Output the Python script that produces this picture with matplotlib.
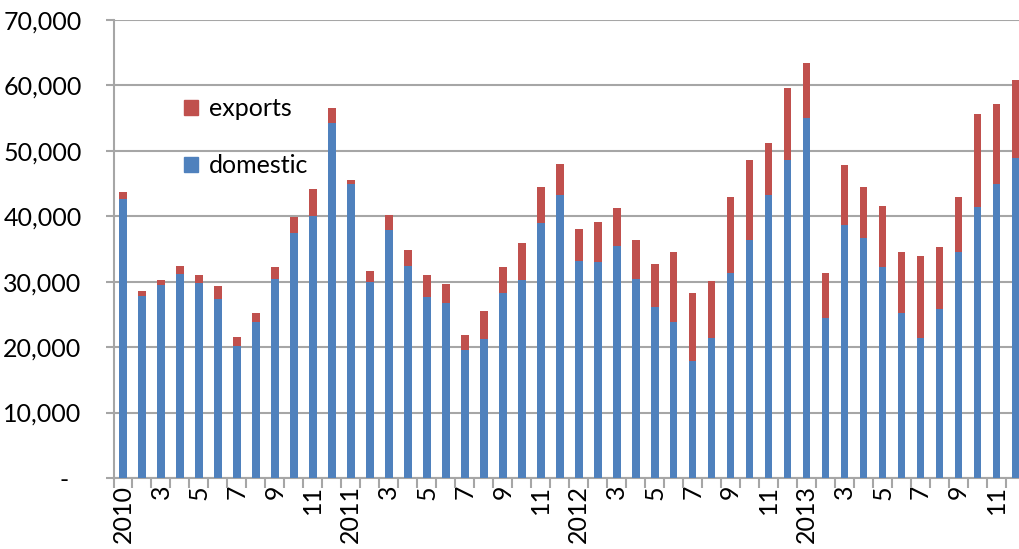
import matplotlib
matplotlib.use("Agg")
import matplotlib.pyplot as plt
from matplotlib.patches import Patch
import numpy as np

months = [f"{y}-{m:02d}" for y in (2010, 2011, 2012, 2013) for m in range(1, 13)]

domestic = [
    42700, 27800, 29500, 31200, 29800, 27400, 20100, 23800, 30400, 37400, 40100, 54200,
    44900, 30000, 37900, 32400, 27700, 26700, 19500, 21300, 28200, 30300, 39000, 43300,
    33100, 33000, 35400, 30400, 26200, 23900, 17900, 21400, 31400, 36400, 43200, 48600,
    55000, 24500, 38700, 36700, 32300, 25200, 21400, 25900, 34500, 41400, 45000, 48900,
]
totals = [
    43700, 28600, 30200, 32400, 31000, 29400, 21600, 25200, 32200, 39900, 44100, 56600,
    45600, 31700, 40200, 34800, 31000, 29600, 21800, 25600, 32300, 35900, 44400, 48000,
    38000, 39100, 41300, 36400, 32700, 34500, 28200, 30100, 42900, 48600, 51200, 59600,
    63500, 31400, 47800, 44400, 41500, 34600, 33900, 35300, 42900, 55700, 57100, 60800,
]
exports = [t - d for t, d in zip(totals, domestic)]

tick_labels = ["2010", "3", "5", "7", "9", "11",
               "2011", "3", "5", "7", "9", "11",
               "2012", "3", "5", "7", "9", "11",
               "2013", "3", "5", "7", "9", "11"]
y_ticks = [0, 10000, 20000, 30000, 40000, 50000, 60000, 70000]

BLUE = "#4F81BD"
RED = "#C0504D"
GRID = "#A6A6A6"

plt.rcParams["font.family"] = ["Lato", "DejaVu Sans"]

fig = plt.figure(figsize=(10.19, 5.49), dpi=100)
ax = fig.add_axes([113.5 / 1019, 1 - 478 / 549, (1025 - 113.5) / 1019, (478 - 20) / 549])

x = np.arange(len(months))
w = 0.4
ax.bar(x, domestic, width=w, color=BLUE, zorder=3, label="domestic")
ax.bar(x, exports, width=w, bottom=domestic, color=RED, zorder=3, label="exports")

ax.set_xlim(-0.5, len(months) - 0.5)
ax.set_ylim(0, 70000)

ax.set_yticks(y_ticks)
ax.set_yticklabels(["-  "] + [f"{v:,}" for v in y_ticks[1:]], fontsize=18)
ax.yaxis.grid(True, color=GRID, linewidth=1.5, zorder=0)
ax.tick_params(axis="y", length=6, width=1.5, color=GRID, pad=17, direction="out")

ax.set_xticks(x[::2])
ax.set_xticklabels(tick_labels, rotation=90, fontsize=18, va="top", ha="center")
ax.set_xticks(np.arange(-0.5, len(months), 1.0), minor=True)
ax.tick_params(axis="x", which="major", length=0, pad=5)
ax.tick_params(axis="x", which="minor", length=7, width=1.5, color=GRID, direction="out")

for s in ("top", "right"):
    ax.spines[s].set_visible(False)
for s in ("left", "bottom"):
    ax.spines[s].set_color(GRID)
    ax.spines[s].set_linewidth(1.5)

handles = [Patch(color=RED), Patch(color=BLUE)]
ax.legend(handles, ["exports", "domestic"], frameon=False, fontsize=18,
          loc="upper left", bbox_to_anchor=(0.053, 0.88),
          labelspacing=1.35, handlelength=0.55, handleheight=0.55, handletextpad=0.45)

fig.savefig("out.png", dpi=100)
